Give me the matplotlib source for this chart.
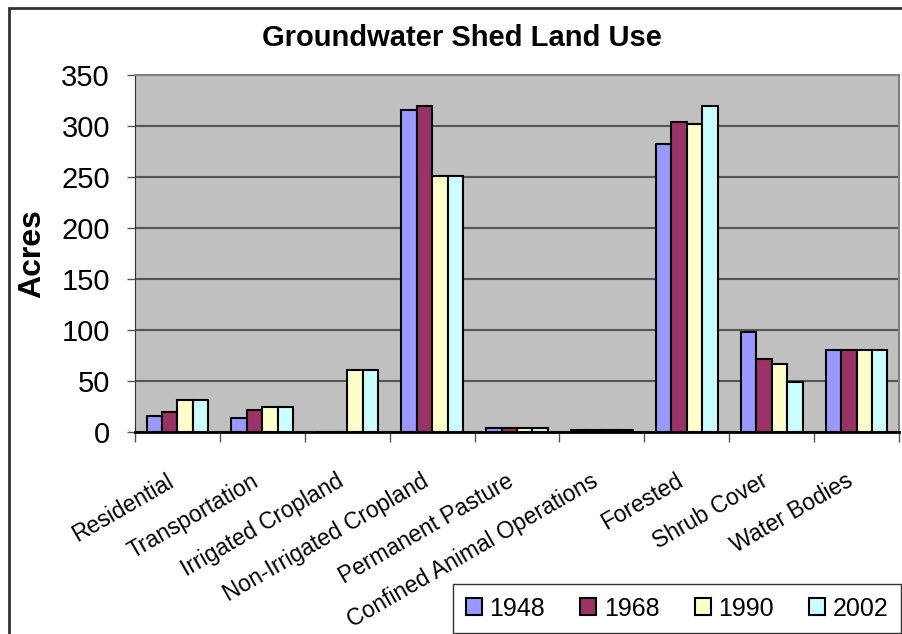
import numpy as np
import matplotlib
matplotlib.use("Agg")
import matplotlib.pyplot as plt
from matplotlib.patches import Rectangle
from matplotlib.transforms import ScaledTranslation

categories = ["Residential", "Transportation", "Irrigated Cropland",
              "Non-Irrigated Cropland", "Permanent Pasture",
              "Confined Animal Operations", "Forested", "Shrub Cover",
              "Water Bodies"]
years = ["1948", "1968", "1990", "2002"]
acres_1948 = [16, 14, 0, 316, 4, 2, 282, 98, 80]
acres_1968 = [20, 22, 0, 320, 4, 2, 304, 72, 80]
acres_1990 = [31, 25, 61, 251, 4, 2, 302, 67, 80]
acres_2002 = [31, 25, 61, 251, 4, 2, 320, 49, 80]
series = [acres_1948, acres_1968, acres_1990, acres_2002]
colors = ["#9999FF", "#993366", "#FFFFCC", "#CCFFFF"]

plt.rcParams["font.family"] = ["Liberation Sans", "DejaVu Sans"]

fig = plt.figure(figsize=(9.03, 6.34), dpi=100)
ax = fig.add_axes([135 / 903, 1 - 432 / 634, 764 / 903, 357 / 634])

x = np.arange(len(categories))
w = 0.182
for i, (vals, c, yr) in enumerate(zip(series, colors, years)):
    ax.bar(x + (i - 1.5) * w, vals, w, color=c, edgecolor="black",
           linewidth=1.5, label=yr, zorder=3)

ax.set_facecolor("#C0C0C0")
ax.set_xlim(-0.5, len(categories) - 0.5)
ax.set_ylim(0, 350)
ax.set_yticks(range(0, 351, 50))
ax.yaxis.grid(True, color="#555555", linewidth=1.5, zorder=1)
ax.tick_params(axis="y", labelsize=21, length=6, width=1, color="#555555", pad=12)

ax.set_xticks(x)
ax.set_xticklabels(categories, rotation=30, ha="right", va="top",
                   rotation_mode="anchor", fontsize=16.5)
ax.tick_params(axis="x", which="major", length=0, pad=27)
shift = ScaledTranslation(-0.11, 0, fig.dpi_scale_trans)
for lab in ax.get_xticklabels():
    lab.set_transform(lab.get_transform() + shift)
ax.set_xticks(np.arange(-0.5, len(categories), 1), minor=True)
ax.tick_params(axis="x", which="minor", length=7, width=1, color="#555555")

for side in ["top", "right"]:
    ax.spines[side].set_color("#808080")
    ax.spines[side].set_linewidth(1.5)
ax.spines["left"].set_color("#333333")
ax.spines["bottom"].set_color("black")
ax.spines["bottom"].set_linewidth(2)

ax.set_ylabel("Acres", fontsize=23, fontweight="bold", labelpad=10)
fig.text(462 / 903, 1 - 38 / 634, "Groundwater Shed Land Use",
         ha="center", va="center", fontsize=21, fontweight="bold")

leg = fig.legend(loc="lower right", bbox_to_anchor=(901 / 903, 1 / 634),
                 ncol=4, fontsize=18, frameon=True, fancybox=False,
                 edgecolor="black", borderaxespad=0, handlelength=0.65,
                 handleheight=0.65, handletextpad=0.3, columnspacing=1.4,
                 borderpad=0.5)
leg.get_frame().set_linewidth(1)

fig.patches.append(Rectangle((9 / 903, -0.1), 1.2, 1 - 8 / 634 + 0.1,
                             transform=fig.transFigure, fill=False,
                             edgecolor="#333333", linewidth=2))

fig.savefig("out.png", dpi=100)
